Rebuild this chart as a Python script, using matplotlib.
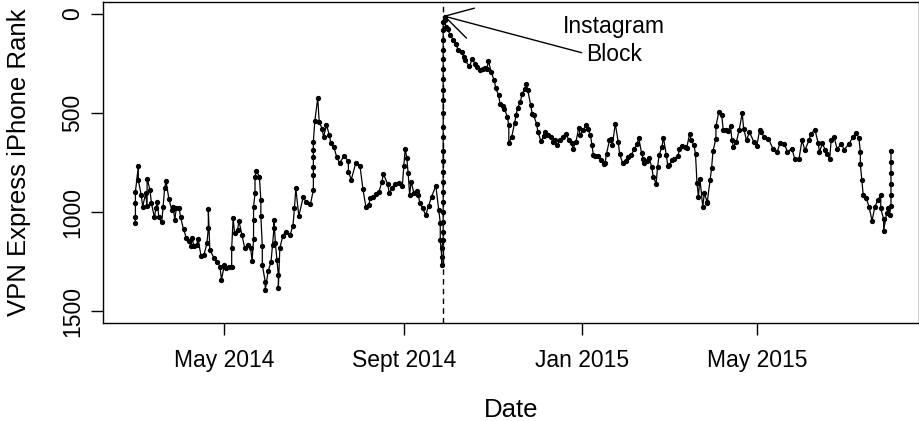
import numpy as np
import matplotlib
matplotlib.use("Agg")
import matplotlib.pyplot as plt
import matplotlib.dates as mdates

plt.rcParams["font.family"] = ["Liberation Sans", "DejaVu Sans"]

# rank readings, x as days since 2014-03-01 (several readings per day near the block)
START = np.datetime64("2014-03-01")
day = [0, 0, 0, 0, 2, 2, 4, 5, 7, 8, 8, 10, 11, 13, 14, 15, 16, 18, 19, 20,
       21, 23, 25, 26, 27, 28, 30, 31, 33, 35, 37, 38, 39, 40, 42, 43, 45, 47, 49, 50,
       50, 51, 54, 56, 58, 59, 61, 62, 64, 66, 66, 67, 68, 70, 71, 73, 75, 77, 79, 80,
       81, 81, 81, 82, 82, 83, 85, 86, 86, 87, 87, 89, 89, 91, 93, 94, 95, 95, 96, 97,
       98, 98, 99, 101, 103, 106, 108, 109, 110, 112, 115, 117, 120, 122, 122, 122, 122, 122, 122, 123,
       125, 126, 128, 129, 131, 133, 134, 136, 138, 140, 143, 146, 146, 148, 151, 154, 156, 158, 160, 161,
       163, 165, 167, 169, 170, 173, 174, 176, 178, 181, 183, 184, 185, 186, 187, 188, 189, 191, 193, 194,
       195, 197, 199, 201, 203, 206, 208, 209, 209, 210, 210, 210,
       211, 211, 211, 211, 211, 211, 211, 211, 211, 211, 211, 211, 211, 211, 211, 211, 211, 211, 211, 211, 211, 211,
       212, 212, 213, 214, 216, 218, 220, 221, 224, 225, 226, 229, 231, 233, 234, 236, 238, 240, 241, 242,
       244, 246, 247, 249, 250, 252, 253, 255, 256, 256, 258, 260, 261, 262, 264, 265, 267, 268, 269, 271,
       272, 273, 275, 276, 278, 280, 281, 283, 285, 286, 288, 289, 291, 293, 295, 297, 299, 300, 302, 304,
       305, 307, 309, 310, 312, 313, 314, 315, 317, 319, 321, 322, 323, 325, 326, 327, 329, 331, 332, 334,
       336, 338, 340, 342, 344, 345, 347, 348, 349, 351, 352, 354, 355, 357, 358, 359, 361, 362, 364, 365,
       366, 368, 369, 372, 373, 375, 377, 378, 380, 381, 383, 384, 385, 386, 387, 389, 390, 392, 392, 394,
       395, 396, 398, 398, 400, 402, 403, 405, 406, 408, 409, 410, 412, 414, 416, 417, 419, 421, 424, 426,
       428, 429, 431, 434, 437, 440, 442, 445, 447, 450, 452, 455, 457, 459, 462, 463, 466, 468, 469, 471,
       473, 474, 476, 477, 479, 481, 484, 486, 489, 492, 494, 496, 497, 497, 498, 499, 501, 503, 505, 507,
       509, 511, 511, 513, 513, 515, 516, 517, 518, 518, 518, 518, 518, 518]
rank = [1057, 1027, 956, 898, 769, 839, 915, 973, 906, 970, 831, 889, 956, 1027, 982, 948, 1024, 1052, 973, 881,
        844, 936, 990, 977, 1040, 982, 982, 1027, 1087, 1133, 1144, 1171, 1133, 1171, 1166, 1138, 1222, 1217, 1158, 1082,
        987, 1191, 1233, 1250, 1275, 1342, 1267, 1284, 1279, 1279, 1183, 1032, 1107, 1091, 1044, 1116, 1183, 1166, 1183, 1245,
        1138, 1040, 973, 906, 822, 792, 822, 940, 1020, 1171, 1267, 1351, 1393, 1300, 1250, 1166, 1082, 1040, 1158, 1242,
        1317, 1384, 1183, 1121, 1099, 1116, 1071, 982, 881, 1020, 926, 948, 960, 889, 814, 772, 722, 688, 646, 540,
        425, 545, 579, 621, 562, 612, 654, 671, 722, 752, 718, 742, 797, 836, 755, 769, 886, 973, 965, 928,
        923, 909, 898, 847, 809, 859, 903, 881, 856, 852, 869, 769, 680, 725, 805, 913, 847, 906, 893, 915,
        956, 982, 1015, 970, 923, 869, 990, 1054, 1141, 1225, 1267, 1183,
        1141, 1100, 1050, 1000, 950, 900, 850, 800, 740, 690, 620, 571, 500, 436, 386, 330, 280, 230, 180, 130, 80, 40,
        17, 30, 67, 76, 109, 131, 151, 181, 193, 218, 235, 265, 227, 255, 268, 285, 277, 274, 277, 238,
        294, 336, 373, 411, 453, 466, 478, 520, 562, 651, 621, 550, 512, 473, 445, 403, 378, 352, 386, 461,
        503, 512, 554, 596, 641, 618, 596, 612, 621, 646, 638, 663, 638, 621, 604, 634, 651, 680, 646, 574,
        612, 587, 562, 579, 612, 663, 713, 718, 718, 738, 758, 752, 705, 638, 629, 663, 554, 646, 708, 752,
        742, 722, 713, 680, 658, 624, 701, 730, 752, 742, 725, 772, 822, 856, 772, 713, 671, 624, 713, 769,
        763, 738, 730, 718, 680, 668, 671, 675, 604, 638, 663, 708, 852, 923, 831, 973, 906, 948, 953, 839,
        780, 691, 629, 567, 495, 512, 587, 587, 591, 567, 638, 671, 646, 584, 500, 579, 638, 596, 646, 668,
        584, 596, 621, 629, 680, 696, 651, 658, 696, 680, 730, 730, 638, 688, 634, 604, 587, 651, 696, 654,
        688, 708, 730, 638, 621, 680, 658, 685, 658, 621, 601, 624, 696, 758, 836, 915, 931, 973, 1044, 973,
        940, 915, 982, 1037, 1094, 1007, 982, 1015, 970, 915, 859, 802, 747, 691]

block_day = 211
tick_dates = ["2014-05-01", "2014-09-01", "2015-01-01", "2015-05-01"]
tick_labels = ["May 2014", "Sept 2014", "Jan 2015", "May 2015"]


def to_num(d):
    return mdates.date2num(np.datetime64(d, "D").astype("datetime64[ms]").astype(object))


x = to_num(START) + np.array(day, dtype=float)
x0 = to_num(START)

fig = plt.figure(figsize=(9.2, 4.21), dpi=100)
ax = fig.add_axes([103/920, 1-323/421, 816/920, 321/421])

ax.axvline(x0 + block_day, color="black", lw=1, ls=(0, (4, 3)), zorder=1)
ax.plot(x, rank, "-", color="black", lw=0.9, marker="o", ms=2.8, mec="black", mfc="black", zorder=2)

span = max(day) - min(day)
ax.set_xlim(x0 + min(day) - 0.04*span - 1.5, x0 + max(day) + 0.04*span - 1.5)
ax.set_ylim(1560, -60)
ax.set_yticks([0, 500, 1000, 1500])
ax.set_xticks([to_num(d) for d in tick_dates])
ax.set_xticklabels(tick_labels)

for s in ax.spines.values():
    s.set_linewidth(1.0)
ax.tick_params(axis="both", direction="out", length=8.5, width=1, labelsize=16.5, pad=10)
ax.tick_params(axis="y", pad=5)
for t in ax.get_yticklabels():
    t.set_rotation(90)
    t.set_va("center")

ax.set_xlabel("Date", fontsize=18.5, labelpad=19)
ax.set_ylabel("VPN Express iPhone Rank", fontsize=18.5, labelpad=22)

# Instagram block annotation
ax.annotate("", xy=(x0 + block_day, 10), xytext=(to_num("2015-01-01"), 196),
            arrowprops=dict(arrowstyle="->,head_length=0.965,head_width=0.557",
                            mutation_scale=20, lw=1, color="black",
                            shrinkA=0, shrinkB=0))
ax.text(to_num("2015-01-23"), 135, "Instagram\nBlock", fontsize=16.5,
        ha="center", va="center", linespacing=1.3)

fig.savefig("out.png", dpi=100)
